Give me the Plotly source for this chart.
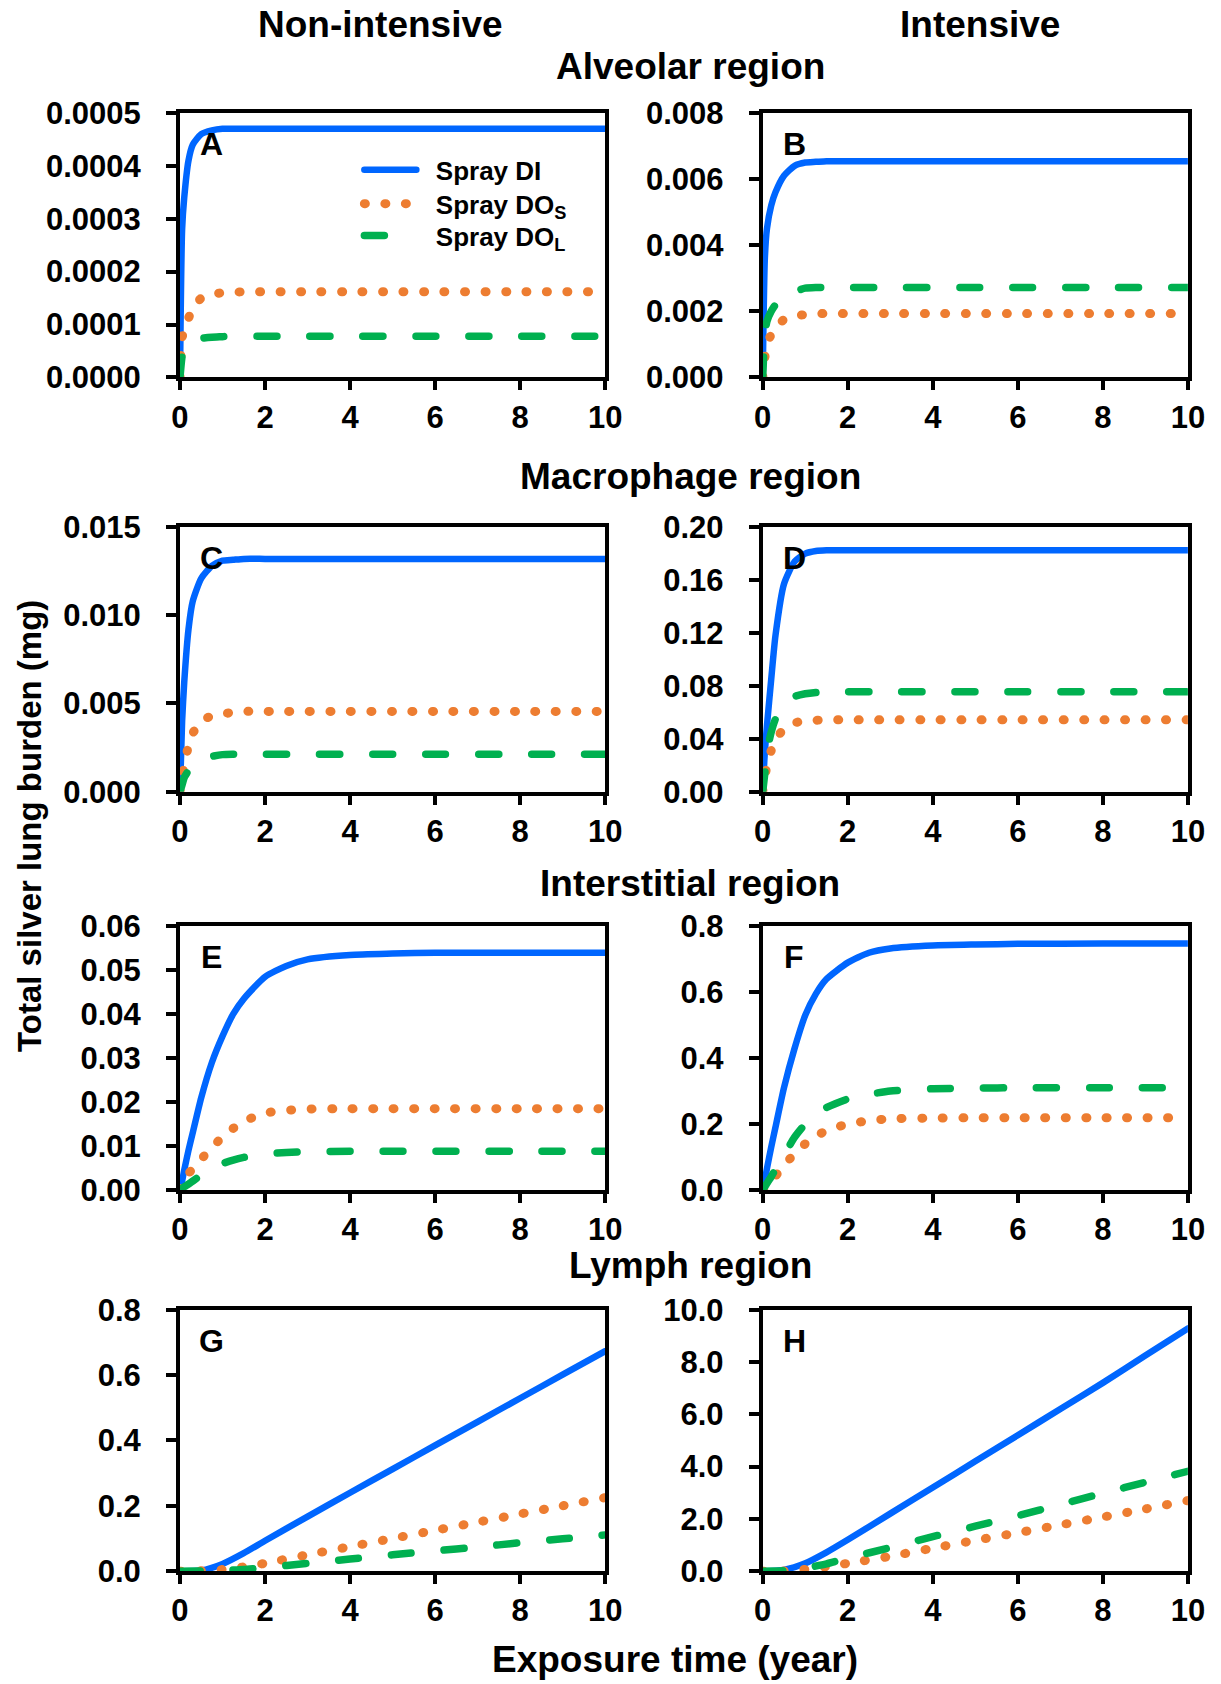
import plotly.graph_objects as go

# ---------------- data ----------------
t_sat = [0, 0.05, 0.1, 0.2, 0.3, 0.5, 0.75, 1, 1.25, 1.5, 2, 2.5, 3, 4, 5, 6, 8, 10]
t_lymph = [0, 0.5, 1, 1.5, 2, 3, 4, 5, 6, 7, 8, 9, 10]

series_names = ["Spray DI", "Spray DO<sub>S</sub>", "Spray DO<sub>L</sub>"]

# A: alveolar, non-intensive
a_di = [0, 0.00028, 0.00034, 0.00041, 0.00044, 0.00046, 0.000467, 0.00047, 0.00047, 0.00047,
        0.00047, 0.00047, 0.00047, 0.00047, 0.00047, 0.00047, 0.00047, 0.00047]
a_dos = [0, 0.000075, 0.00009, 0.000112, 0.00013, 0.00015, 0.000157, 0.00016, 0.000161, 0.000162,
         0.000162, 0.000162, 0.000162, 0.000162, 0.000162, 0.000162, 0.000162, 0.000162]
a_dol = [0, 0.00004, 0.000055, 0.000066, 0.00007, 0.000074, 0.000076, 0.000077, 0.000078,
         0.000078, 0.000078, 0.000078, 0.000078, 0.000078, 0.000078, 0.000078, 0.000078, 0.000078]
# B: alveolar, intensive
b_di = [0, 0.0036, 0.0045, 0.0052, 0.0056, 0.0061, 0.0064, 0.0065, 0.00652, 0.00654,
        0.00654, 0.00654, 0.00654, 0.00654, 0.00654, 0.00654, 0.00654, 0.00654]
b_dos = [0, 0.0006, 0.001, 0.0013, 0.0015, 0.00175, 0.00186, 0.0019, 0.00193,
         0.00193, 0.00193, 0.00193, 0.00193, 0.00193, 0.00193, 0.00193, 0.00193, 0.00193]
b_dol = [0, 0.0013, 0.0017, 0.002, 0.0022, 0.0025, 0.0026, 0.0027, 0.00272,
         0.00272, 0.00272, 0.00272, 0.00272, 0.00272, 0.00272, 0.00272, 0.00272, 0.00272]
# C: macrophage, non-intensive
c_di = [0, 0.004, 0.0062, 0.0092, 0.0108, 0.0121, 0.0128, 0.0131, 0.01315, 0.0132,
        0.0132, 0.0132, 0.0132, 0.0132, 0.0132, 0.0132, 0.0132, 0.0132]
c_dos = [0, 0.0008, 0.0015, 0.0026, 0.0033, 0.004, 0.0043, 0.0044, 0.0045, 0.00455,
         0.00455, 0.00455, 0.00455, 0.00455, 0.00455, 0.00455, 0.00455, 0.00455]
c_dol = [0, 0.0004, 0.0008, 0.0012, 0.0015, 0.0018, 0.002, 0.0021, 0.00212,
         0.00212, 0.00212, 0.00212, 0.00212, 0.00212, 0.00212, 0.00212, 0.00212, 0.00212]
# D: macrophage, intensive
d_di = [0, 0.03, 0.05, 0.085, 0.118, 0.157, 0.174, 0.18, 0.182, 0.1825,
        0.1825, 0.1825, 0.1825, 0.1825, 0.1825, 0.1825, 0.1825, 0.1825]
d_dos = [0, 0.01, 0.02, 0.031, 0.039, 0.0475, 0.052, 0.0535, 0.054, 0.0543,
         0.0543, 0.0543, 0.0543, 0.0543, 0.0543, 0.0543, 0.0543, 0.0543]
d_dol = [0, 0.014, 0.03, 0.045, 0.055, 0.066, 0.072, 0.074, 0.075, 0.0755,
         0.0755, 0.0755, 0.0755, 0.0755, 0.0755, 0.0755, 0.0755, 0.0755]
# E: interstitial, non-intensive
e_di = [0, 0.002, 0.0045, 0.009, 0.013, 0.021, 0.029, 0.035, 0.04, 0.0435,
        0.0485, 0.051, 0.0525, 0.0535, 0.0538, 0.054, 0.054, 0.054]
e_dos = [0, 0.001, 0.002, 0.0037, 0.0048, 0.007, 0.0097, 0.012, 0.014, 0.0156,
         0.0175, 0.0181, 0.0184, 0.0185, 0.0185, 0.0185, 0.0185, 0.0185]
e_dol = [0, 0.0003, 0.0007, 0.0013, 0.002, 0.0034, 0.0049, 0.006, 0.0068, 0.0074,
         0.0082, 0.0085, 0.0087, 0.0088, 0.0088, 0.0088, 0.0088, 0.0088]
# F: interstitial, intensive
f_di = [0, 0.03, 0.065, 0.13, 0.19, 0.31, 0.43, 0.53, 0.595, 0.64,
        0.69, 0.72, 0.733, 0.742, 0.745, 0.747, 0.748, 0.748]
f_dos = [0, 0.007, 0.014, 0.028, 0.042, 0.075, 0.11, 0.14, 0.163, 0.18,
         0.2, 0.21, 0.216, 0.218, 0.219, 0.219, 0.219, 0.219]
f_dol = [0, 0.01, 0.02, 0.04, 0.062, 0.105, 0.16, 0.2, 0.23, 0.25,
         0.276, 0.29, 0.3, 0.307, 0.309, 0.31, 0.31, 0.31]
# G: lymph, non-intensive
g_di = [0, 0.002, 0.022, 0.055, 0.093, 0.167, 0.24, 0.312, 0.385, 0.457, 0.529, 0.601, 0.673]
g_dos = [0, 0.001, 0.005, 0.013, 0.024, 0.05, 0.075, 0.1, 0.125, 0.15, 0.175, 0.2, 0.225]
g_dol = [0, 0.0003, 0.002, 0.005, 0.011, 0.024, 0.037, 0.05, 0.062, 0.074, 0.087, 0.099, 0.111]
# H: lymph, intensive
h_di = [0, 0.05, 0.3, 0.72, 1.2, 2.2, 3.2, 4.2, 5.2, 6.2, 7.2, 8.25, 9.28]
h_dos = [0, 0.01, 0.07, 0.17, 0.3, 0.57, 0.88, 1.18, 1.47, 1.77, 2.07, 2.38, 2.7]
h_dol = [0, 0.02, 0.12, 0.28, 0.5, 0.9, 1.32, 1.72, 2.12, 2.55, 2.98, 3.4, 3.82]

panel_letters = ["A", "B", "C", "D", "E", "F", "G", "H"]
y_max = [0.0005, 0.008, 0.015, 0.20, 0.06, 0.8, 0.8, 10.0]
y_dtick = [0.0001, 0.002, 0.005, 0.04, 0.01, 0.2, 0.2, 2.0]
y_format = [".4f", ".3f", ".3f", ".2f", ".2f", ".1f", ".1f", ".1f"]
x_ticks = [0, 2, 4, 6, 8, 10]

column_titles = ["Non-intensive", "Intensive"]
row_titles = ["Alveolar region", "Macrophage region", "Interstitial region", "Lymph region"]
x_title = "Exposure time (year)"
y_title = "Total silver lung burden (mg)"

panels = [
    (t_sat, a_di, a_dos, a_dol), (t_sat, b_di, b_dos, b_dol),
    (t_sat, c_di, c_dos, c_dol), (t_sat, d_di, d_dos, d_dol),
    (t_sat, e_di, e_dos, e_dol), (t_sat, f_di, f_dos, f_dol),
    (t_lymph, g_di, g_dos, g_dol), (t_lymph, h_di, h_dos, h_dol),
]

# ---------------- styling / layout ----------------
W, H = 1221, 1684
FONT = "Liberation Sans, Arial, sans-serif"
colors = ["#0066FF", "#ED7D31", "#00B050"]
widths = [6.5, 9, 7.5]
dashes = ["solid", "1px,19.5px", "20px,33px"]

# target pixel positions in the picture
col_px = [(175, 604), (763, 1192)]
row_px = [(112, 377), (527, 792), (927, 1191), (1311, 1573)]


def px_x(x):
    # correction for the observed placement in the photographed page
    return (1.0126 * x - 2.5) / W


def px_y(y):
    return 1 - (1.0193 * y - 16.2) / H


fig = go.Figure()
layout_axes = {}
annotations = []
legend_ids = ["legend", "legend2", "legend3"]
legend_rows = [169, 203, 235]

for i, (tt, di, dos, dol) in enumerate(panels):
    r, c = divmod(i, 2)
    n = i + 1
    xa = "x" if n == 1 else f"x{n}"
    ya = "y" if n == 1 else f"y{n}"
    for k, ser in enumerate([di, dos, dol]):
        fig.add_trace(go.Scatter(
            x=tt, y=ser, xaxis=xa, yaxis=ya, mode="lines",
            name="\u00a0\u00a0" + series_names[k], showlegend=(i == 0),
            legend=legend_ids[k],
            line=dict(color=colors[k], width=widths[k], dash=dashes[k],
                      shape="spline", smoothing=0.6),
            hoverinfo="skip",
        ))
    axis_common = dict(
        showline=True, linecolor="black", linewidth=4, mirror=True,
        ticks="outside", tickcolor="black", tickwidth=4,
        showgrid=False, zeroline=False,
        tickfont=dict(family=FONT, size=31, color="black", weight="bold"),
    )
    layout_axes[f"xaxis{n}"] = dict(
        axis_common, domain=[px_x(col_px[c][0]), px_x(col_px[c][1])],
        range=[0, 10], tickvals=x_ticks, ticklen=9, ticklabelstandoff=0,
        anchor=ya,
    )
    layout_axes[f"yaxis{n}"] = dict(
        axis_common, domain=[px_y(row_px[r][1]), px_y(row_px[r][0])],
        range=[0, y_max[i]], dtick=y_dtick[i], tick0=0, tickformat=y_format[i],
        ticklen=10, ticklabelstandoff=19, anchor=xa,
    )
    annotations.append(dict(
        text=panel_letters[i], xref="paper", yref="paper",
        x=px_x(col_px[c][0] + 32), y=px_y(row_px[r][0] + 31),
        xanchor="center", yanchor="middle", showarrow=False,
        font=dict(family=FONT, size=32, color="black", weight="bold"),
    ))

title_font = dict(family=FONT, size=37, color="black", weight="bold")
for txt, xc in zip(column_titles, [377, 982]):
    annotations.append(dict(text=txt, xref="paper", yref="paper", x=px_x(xc), y=px_y(23),
                            xanchor="center", yanchor="middle", showarrow=False, font=title_font))
for txt, yc in zip(row_titles, [65, 476, 884, 1267]):
    annotations.append(dict(text=txt, xref="paper", yref="paper", x=px_x(690), y=px_y(yc),
                            xanchor="center", yanchor="middle", showarrow=False, font=title_font))
annotations.append(dict(text=x_title, xref="paper", yref="paper", x=px_x(674), y=px_y(1661),
                        xanchor="center", yanchor="middle", showarrow=False,
                        font=dict(family=FONT, size=37, color="black", weight="bold")))
annotations.append(dict(text=y_title, xref="paper", yref="paper", x=px_x(23), y=px_y(826),
                        xanchor="center", yanchor="middle", showarrow=False, textangle=-90,
                        font=dict(family=FONT, size=33, color="black", weight="bold")))

legend_common = dict(xanchor="left", yanchor="middle", bgcolor="rgba(0,0,0,0)",
                     itemwidth=52, borderwidth=0,
                     font=dict(family=FONT, size=26, color="black", weight="bold"))
legends = {}
for lid, yr in zip(legend_ids, legend_rows):
    legends[lid] = dict(legend_common, x=px_x(356), y=px_y(yr))

fig.update_layout(
    width=W, height=H,
    margin=dict(l=0, r=0, t=0, b=0, pad=0),
    paper_bgcolor="white", plot_bgcolor="white",
    font=dict(family=FONT, size=31, color="black", weight="bold"),
    showlegend=True,
    annotations=annotations,
    **legends,
    **layout_axes,
)

post = """
document.documentElement.style.margin = '0';
document.documentElement.style.padding = '0';
document.body.style.margin = '0';
document.body.style.padding = '0';
document.body.style.overflow = 'hidden';
var gd = document.getElementById('{plot_id}');
function roundCaps(){
  gd.querySelectorAll('path.js-line, .legendlines path').forEach(function(p){
    p.style.strokeLinecap = 'round';
  });
}
roundCaps();
if (gd.on) { gd.on('plotly_afterplot', roundCaps); }
"""
fig.write_html("out.html", post_script=post, config={"displayModeBar": False})
